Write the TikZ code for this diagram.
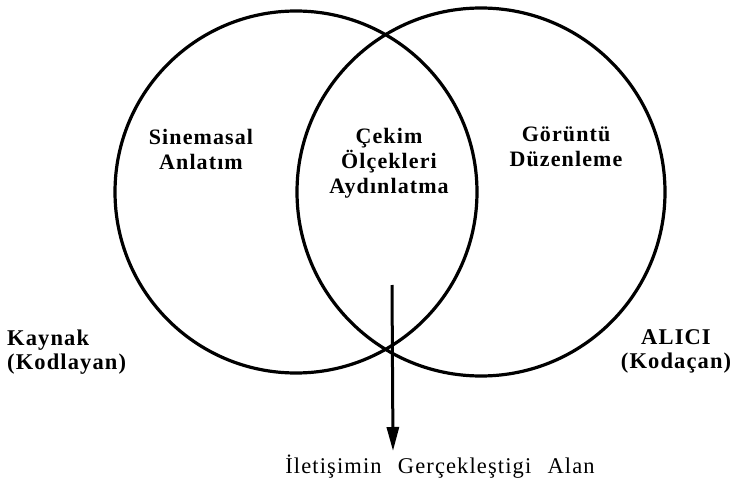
\documentclass[tikz,border=0pt]{standalone}
\usepackage{fontspec}
\setmainfont{Liberation Serif}[LetterSpace=5]
\newfontfamily\basefont{Liberation Serif}[LetterSpace=5,WordSpace=2.4]
\usetikzlibrary{arrows.meta}
\begin{document}
\begin{tikzpicture}[x=1pt,y=-1pt,
  ring/.style={draw=black,line width=3.2pt},
  lbl/.style={font=\fontsize{22}{25}\selectfont\bfseries,align=center,inner sep=0pt},
  side/.style={font=\fontsize{22.5}{24}\selectfont\bfseries,inner sep=0pt},
  base/.style={font=\basefont\fontsize{22.5}{24}\selectfont,inner sep=0pt}]
\useasboundingbox (0,0) rectangle (736,487);
\node[ring,circle,minimum size=362pt,inner sep=0pt] (L) at (296,192) {};
\node[ring,circle,minimum size=368pt,inner sep=0pt] (R) at (481,192) {};
\node[lbl] (sin) at (201,149) {Sinemasal\\Anlatım};
\node[lbl] (cek) at (389,163) {Çekim\\Ölçekleri\\Aydınlatma};
\node[lbl] (gor) at (566,147) {Görüntü\\Düzenleme};
\node[side,align=left,anchor=west] (kay) at (7,352) {Kaynak\\(Kodlayan)};
\node[side,align=center] (ali) at (676,351) {ALICI\\(Kodaçan)};
\coordinate (astart) at (392,285);
\node[base] (alan) at (440,467) {İletişimin Gerçekleştigi Alan};
\coordinate (aend) at (393,451);
\draw[line width=3pt,-{Triangle[length=24pt,width=12pt]}] (astart) -- (aend);
\end{tikzpicture}
\end{document}
